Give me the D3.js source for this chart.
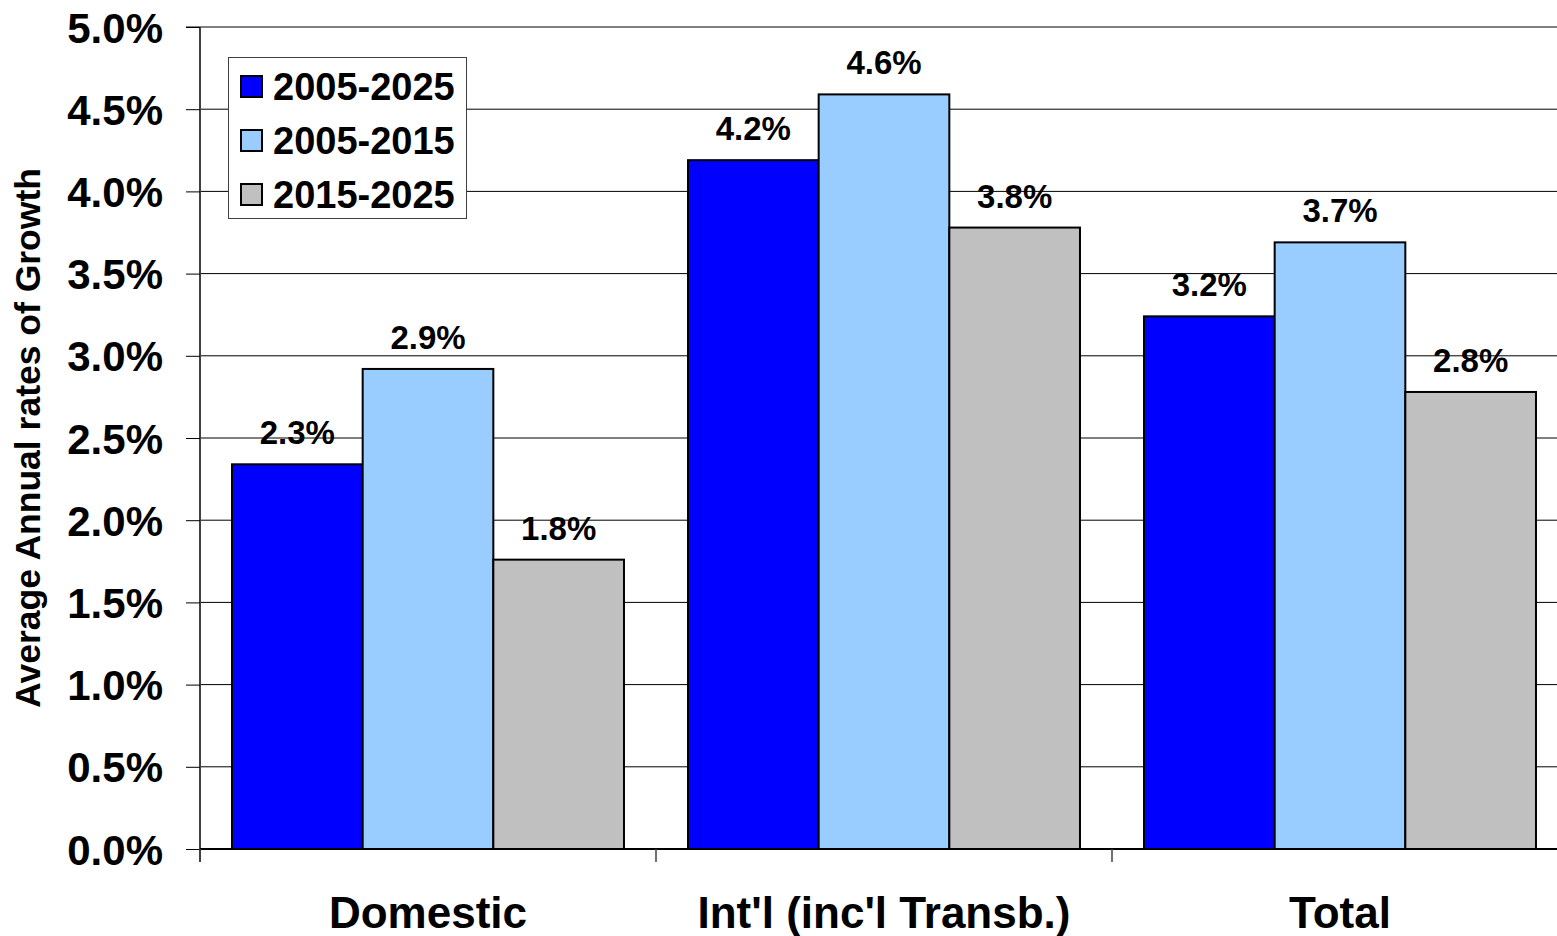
<!DOCTYPE html>
<html><head><meta charset="utf-8">
<script src="https://cdn.jsdelivr.net/npm/d3@7"></script>
<style>
html,body{margin:0;padding:0;background:#fff;}
svg{display:block;font-family:"Liberation Sans",Arial,sans-serif;font-weight:bold;}
</style></head>
<body>
<svg id="chart" width="1557" height="936"></svg>
<script>
const categories = ["Domestic", "Int'l (inc'l Transb.)", "Total"];
const seriesNames = ["2005-2025", "2005-2015", "2015-2025"];
const seriesColors = ["#0000FF", "#99CCFF", "#C0C0C0"];
const values2005_2025 = [2.34, 4.19, 3.24];
const values2005_2015 = [2.92, 4.59, 3.69];
const values2015_2025 = [1.76, 3.78, 2.78];
const valueLabels2005_2025 = ["2.3%", "4.2%", "3.2%"];
const valueLabels2005_2015 = ["2.9%", "4.6%", "3.7%"];
const valueLabels2015_2025 = ["1.8%", "3.8%", "2.8%"];
const yTicks = [0, 0.5, 1, 1.5, 2, 2.5, 3, 3.5, 4, 4.5, 5];

const seriesValues = [values2005_2025, values2005_2015, values2015_2025];
const seriesLabels = [valueLabels2005_2025, valueLabels2005_2015, valueLabels2015_2025];

const svg = d3.select("#chart");
const pLeft = 200, pRight = 1568, pTop = 27, pBottom = 849;

const x = d3.scaleBand().domain(categories).range([pLeft, pRight]).paddingInner(0).paddingOuter(0);
const xs = d3.scaleBand().domain(seriesNames).range([0, x.bandwidth()]).paddingOuter(0.245).paddingInner(0);
const y = d3.scaleLinear().domain([0, 5]).range([pBottom, pTop]);

// gridlines
svg.append("g").selectAll("line").data(yTicks.filter(t => t > 0 && t < 5)).join("line")
  .attr("x1", pLeft).attr("x2", pRight)
  .attr("y1", d => y(d)).attr("y2", d => y(d))
  .attr("stroke", "#000").attr("stroke-width", 1);
// top border
svg.append("line").attr("x1", 186).attr("x2", pRight).attr("y1", y(5)).attr("y2", y(5))
  .attr("stroke", "#808080").attr("stroke-width", 2);

// y axis
const yAxis = d3.axisLeft(y).tickValues(yTicks).tickSize(14).tickPadding(23)
  .tickFormat(d => d3.format(".1f")(d) + "%");
const ya = svg.append("g").attr("transform", `translate(${pLeft},0)`).call(yAxis);
ya.select(".domain").attr("stroke", "#404040").attr("stroke-width", 2).attr("d", `M0,${pTop}V${pBottom + 13}`);
ya.selectAll(".tick line").attr("stroke", "#000").attr("stroke-width", 1);
ya.selectAll(".tick text").attr("font-size", 42).attr("font-weight", "bold").attr("fill", "#000")
  .attr("font-family", "Liberation Sans, Arial, sans-serif").attr("dy", "0.36em");

// bars
const groups = svg.append("g").selectAll("g").data(categories).join("g")
  .attr("transform", d => `translate(${x(d)},0)`);
seriesNames.forEach((s, si) => {
  groups.append("rect")
    .attr("x", xs(s)).attr("width", xs.bandwidth())
    .attr("y", (d, i) => y(seriesValues[si][i]))
    .attr("height", (d, i) => y(0) - y(seriesValues[si][i]))
    .attr("fill", seriesColors[si]).attr("stroke", "#000").attr("stroke-width", 2);
  groups.append("text")
    .attr("x", xs(s) + xs.bandwidth() / 2)
    .attr("y", (d, i) => y(seriesValues[si][i]) - 20)
    .attr("text-anchor", "middle").attr("font-size", 33).attr("fill", "#000")
    .text((d, i) => seriesLabels[si][i]);
});

// x axis
const xAxis = d3.axisBottom(x).tickSize(0).tickPadding(0).tickFormat(() => "");
const xa = svg.append("g").attr("transform", `translate(0,${pBottom})`).call(xAxis);
xa.select(".domain").attr("stroke", "#000").attr("stroke-width", 2).attr("d", `M${pLeft},0H${pRight}`);
xa.selectAll(".tick").remove();
svg.append("g").selectAll("line").data(categories).join("line")
  .attr("x1", d => x(d)).attr("x2", d => x(d)).attr("y1", pBottom).attr("y2", pBottom + 13)
  .attr("stroke", "#404040").attr("stroke-width", 1.5);
svg.append("g").selectAll("text").data(categories).join("text")
  .attr("x", d => x(d) + x.bandwidth() / 2).attr("y", 928)
  .attr("text-anchor", "middle").attr("font-size", 44).attr("fill", "#000")
  .text(d => d);

// y title
svg.append("text").attr("transform", "translate(40,438) rotate(-90)")
  .attr("text-anchor", "middle").attr("font-size", 35.5).attr("fill", "#000")
  .text("Average Annual rates of Growth");

// legend
const lg = svg.append("g");
lg.append("rect").attr("x", 228.5).attr("y", 57.5).attr("width", 238).attr("height", 161)
  .attr("fill", "#fff").attr("stroke", "#404040").attr("stroke-width", 1);
const legY = [87, 141, 195];
seriesNames.forEach((s, i) => {
  lg.append("rect").attr("x", 241).attr("y", legY[i] - 11).attr("width", 21).attr("height", 21)
    .attr("fill", seriesColors[i]).attr("stroke", "#000").attr("stroke-width", 2);
  lg.append("text").attr("x", 273).attr("y", legY[i] + 13).attr("font-size", 38).attr("fill", "#000")
    .text(s);
});
</script>
</body></html>
